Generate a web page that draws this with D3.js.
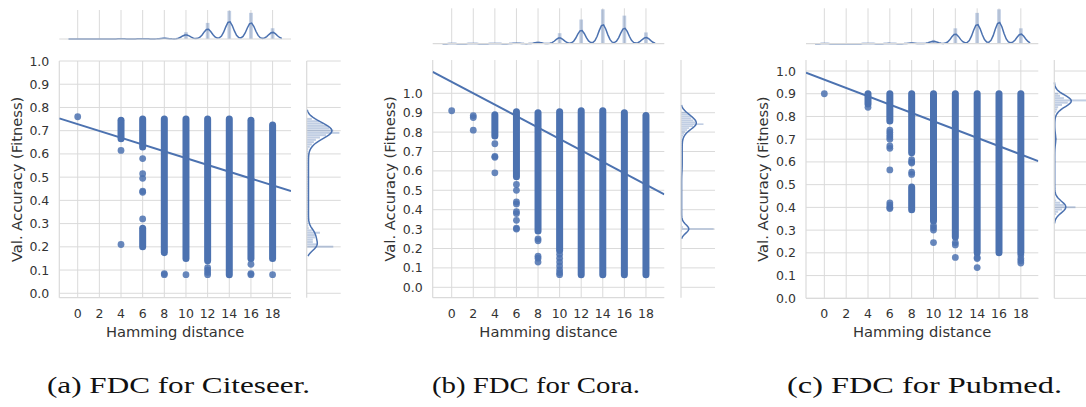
<!DOCTYPE html>
<html lang="en">
<head>
    <meta charset="UTF-8">
    <title>FDC joint plots</title>
    <style>
        body { margin: 0; background: #fff; }
        #chart { display: block; }
        .tick-label { font-family: "DejaVu Sans", sans-serif; font-size: 12.5px; fill: #333; }
        .axis-label { font-family: "DejaVu Sans", sans-serif; font-size: 14.7px; fill: #333; }
        .caption { font-family: "Liberation Serif", serif; font-size: 24px; fill: #111; }
    </style>
    <script src="https://d3js.org/d3.v7.min.js"></script>
</head>
<body>
<svg id="chart" width="1086" height="407"></svg>
<script>
    // ---- data ----
    var xTicks = [0, 2, 4, 6, 8, 10, 12, 14, 16, 18];
    var yTicks = [0, 0.1, 0.2, 0.3, 0.4, 0.5, 0.6, 0.7, 0.8, 0.9, 1.0];

    // isolated points [hamming, accuracy]
    var citeseerSingles = [[0, 0.76], [4, 0.615], [4, 0.21], [6, 0.58], [6, 0.515], [6, 0.495], [6, 0.44], [6, 0.435], [6, 0.32],
        [8, 0.085], [8, 0.08], [10, 0.08], [12, 0.11], [12, 0.10], [12, 0.09], [12, 0.08], [16, 0.125], [16, 0.085], [16, 0.08], [18, 0.08]];
    // dense runs of points [hamming, low, high]
    var citeseerBands = [[4, 0.665, 0.745], [6, 0.63, 0.75], [6, 0.2, 0.28], [8, 0.175, 0.75], [10, 0.15, 0.75],
        [12, 0.14, 0.75], [14, 0.08, 0.75], [16, 0.15, 0.745], [18, 0.15, 0.725]];

    var coraSingles = [[0, 0.91], [2, 0.885], [2, 0.875], [2, 0.81], [4, 0.74], [4, 0.675], [4, 0.67], [4, 0.59],
        [6, 0.53], [6, 0.50], [6, 0.44], [6, 0.43], [6, 0.39], [6, 0.38], [6, 0.345], [6, 0.305], [6, 0.30],
        [8, 0.25], [8, 0.24], [8, 0.16], [8, 0.15], [8, 0.13],
        [10, 0.17], [10, 0.15], [10, 0.13], [10, 0.11], [10, 0.09], [10, 0.075], [10, 0.065]];
    var coraBands = [[4, 0.78, 0.89], [6, 0.57, 0.905], [8, 0.29, 0.90], [10, 0.19, 0.905], [12, 0.065, 0.91],
        [14, 0.065, 0.91], [16, 0.065, 0.90], [18, 0.065, 0.885]];

    var pubmedSingles = [[0, 0.90], [4, 0.84], [6, 0.74], [6, 0.73], [6, 0.72], [6, 0.71], [6, 0.70], [6, 0.67], [6, 0.66],
        [6, 0.565], [6, 0.42], [6, 0.41], [6, 0.40], [6, 0.395], [8, 0.61], [8, 0.60], [8, 0.595], [8, 0.555], [8, 0.545],
        [10, 0.32], [10, 0.31], [10, 0.30], [10, 0.245], [12, 0.245], [12, 0.235], [12, 0.18],
        [14, 0.18], [14, 0.175], [14, 0.135], [18, 0.19], [18, 0.175], [18, 0.165], [18, 0.155]];
    var pubmedBands = [[4, 0.855, 0.90], [6, 0.78, 0.90], [8, 0.64, 0.90], [8, 0.39, 0.49], [10, 0.34, 0.90],
        [12, 0.27, 0.90], [14, 0.20, 0.90], [16, 0.20, 0.90], [18, 0.20, 0.90]];

    // top marginal: counts at each hamming distance in xTicks
    var citeseerTopCounts = [0.2, 0.1, 0.3, 0.5, 1.2, 6.7, 16, 28, 26, 10.7];
    var coraTopCounts = [0.2, 0.3, 0.5, 0.8, 2, 10, 23, 32.7, 26.7, 10.7];
    var pubmedTopCounts = [0.2, 0.1, 0.3, 0.5, 1, 3.5, 14.3, 28.7, 32, 14.3];

    // right marginal: accuracy histogram, bins of 0.01 starting at *Start
    var citeseerRightStart = 0.19;
    var citeseerRightCounts = [0, 26, 10, 6, 6, 8, 8, 13, 5, 2, 1.5,
        1.5, 1.5, 1.5, 1.5, 1.5, 1.5, 1.5, 1.5, 1.5, 1.5, 1.5, 1.5, 1.5, 1.5, 1.5, 1.5, 1.5,
        1.5, 1.5, 1.5, 1.5, 1.5, 1.5, 1.5, 1.5, 1.5, 1.5, 1.5, 1.5, 1.5, 1.5, 1.5, 1.5,
        3, 5, 7, 9, 13, 19, 32, 26, 22, 20, 16, 12, 5, 0];
    var coraRightStart = 0.28;
    var coraRightCounts = [0, 1, 32, 2, 1,
        0.5, 0.5, 0.5, 0.5, 0.5, 0.5, 0.5, 0.5, 0.5, 0.5, 0.5, 0.5, 0.5, 0.5, 0.5, 0.5, 0.5, 0.5, 0.5, 0.5, 0.5, 0.5, 0.5, 0.5, 0.5, 0.5, 0.5,
        1, 1, 1, 1, 1, 1, 1, 1, 1, 1, 1, 1, 1, 1, 1, 1, 1, 1,
        2, 3, 4, 6, 8, 12, 22, 14, 12, 10, 10, 8, 6, 0];
    var pubmedRightStart = 0.36;
    var pubmedRightCounts = [0, 2, 4, 8, 22, 10, 6, 2, 1,
        0.3, 0.3, 0.3, 0.3, 0.3, 0.3, 0.3, 0.3, 0.3, 0.3, 0.3, 0.3, 0.3, 0.3, 0.3, 0.3, 0.3, 0.3, 0.3, 0.3, 0.3, 0.3, 0.3, 0.3,
        1.5, 2.5, 1.5,
        0.3, 0.3, 0.3, 0.3, 0.3, 0.3, 0.3, 0.3, 0.3, 0.3,
        2, 3, 4, 8, 14, 34, 10, 6, 4, 0, 0];

    // regression fits
    var citeseerFit = { intercept: 0.728, slope: -0.01463 };
    var coraFit = { intercept: 1.059, slope: -0.02945 };
    var pubmedFit = { intercept: 0.962, slope: -0.01828 };

    var captions = ["(a) FDC for Citeseer.", "(b) FDC for Cora.", "(c) FDC for Pubmed."];

    // ---- layout ----
    var blue = "#4c72b0";
    var gridColor = "#dadada";

    var panels = [
        { singles: citeseerSingles, bands: citeseerBands, topCounts: citeseerTopCounts,
          rightStart: citeseerRightStart, rightCounts: citeseerRightCounts, fit: citeseerFit, caption: captions[0],
          left: 59.3, right: 291, top: 61, bottom: 297.7, xDom: [-1.7, 19.7], yDom: [-0.019, 1.0],
          margTop: 10, margBottom: 39, rLeft: 306.7, rRight: 340.7, yLabelX: 16.7,
          capX: 178.5, capW: 263, topFrac: 0.59, rightFrac: 0.74 },
        { singles: coraSingles, bands: coraBands, topCounts: coraTopCounts,
          rightStart: coraRightStart, rightCounts: coraRightCounts, fit: coraFit, caption: captions[1],
          left: 432.7, right: 664.3, top: 60, bottom: 297.7, xDom: [-1.76, 19.7], yDom: [-0.0536, 1.1716],
          margTop: 8.3, margBottom: 43.7, rLeft: 681, rRight: 715, yLabelX: 390,
          capX: 536, capW: 208, topFrac: 0.53, rightFrac: 0.45 },
        { singles: pubmedSingles, bands: pubmedBands, topCounts: pubmedTopCounts,
          rightStart: pubmedRightStart, rightCounts: pubmedRightCounts, fit: pubmedFit, caption: captions[2],
          left: 806, right: 1038.3, top: 60, bottom: 298.3, xDom: [-1.68, 19.6], yDom: [0, 1.0484],
          margTop: 8.3, margBottom: 43.7, rLeft: 1054.3, rRight: 1088.3, yLabelX: 763.3,
          capX: 924.5, capW: 275, topFrac: 0.6, rightFrac: 0.5 }
    ];

    var svg = d3.select("#chart");

    function gauss(u) { return Math.exp(-0.5 * u * u) / Math.sqrt(2 * Math.PI); }

    function kde(centers, weights, h, lo, hi, n) {
        var pts = [];
        for (var i = 0; i < n; i++) {
            var x = lo + (hi - lo) * i / (n - 1);
            var s = 0;
            for (var j = 0; j < centers.length; j++) s += weights[j] * gauss((x - centers[j]) / h) / h;
            pts.push([x, s]);
        }
        return pts;
    }

    panels.forEach(function (p, idx) {
        var g = svg.append("g");
        var x = d3.scaleLinear().domain(p.xDom).range([p.left, p.right]);
        var y = d3.scaleLinear().domain(p.yDom).range([p.bottom, p.top]);

        var clipId = "clip" + idx;
        svg.append("clipPath").attr("id", clipId).append("rect")
            .attr("x", p.left).attr("y", p.top).attr("width", p.right - p.left).attr("height", p.bottom - p.top);

        // grid
        g.selectAll(".vg").data(xTicks).enter().append("line")
            .attr("x1", function (d) { return x(d); }).attr("x2", function (d) { return x(d); })
            .attr("y1", p.top).attr("y2", p.bottom)
            .attr("stroke", gridColor).attr("stroke-width", 1);
        g.selectAll(".hg").data(yTicks).enter().append("line")
            .attr("x1", p.left).attr("x2", p.right)
            .attr("y1", function (d) { return y(d); }).attr("y2", function (d) { return y(d); })
            .attr("stroke", gridColor).attr("stroke-width", 1);
        // spines
        g.append("line").attr("x1", p.left).attr("x2", p.left).attr("y1", p.top).attr("y2", p.bottom)
            .attr("stroke", gridColor).attr("stroke-width", 1.2);
        g.append("line").attr("x1", p.left).attr("x2", p.right).attr("y1", p.bottom).attr("y2", p.bottom)
            .attr("stroke", gridColor).attr("stroke-width", 1.2);

        // tick labels
        g.selectAll(".xt").data(xTicks).enter().append("text")
            .attr("class", "tick-label").attr("text-anchor", "middle")
            .attr("x", function (d) { return x(d); }).attr("y", p.bottom + 20)
            .text(function (d) { return d; });
        g.selectAll(".yt").data(yTicks).enter().append("text")
            .attr("class", "tick-label").attr("text-anchor", "end")
            .attr("x", p.left - 10).attr("y", function (d) { return y(d) + 4.5; })
            .text(function (d) { return d.toFixed(1); });

        // axis labels
        g.append("text").attr("class", "axis-label").attr("text-anchor", "middle")
            .attr("x", (p.left + p.right) / 2).attr("y", p.bottom + 39)
            .text("Hamming distance");
        g.append("text").attr("class", "axis-label").attr("text-anchor", "middle")
            .attr("transform", "translate(" + (p.yLabelX + 5) + "," + ((p.top + p.bottom) / 2) + ") rotate(-90)")
            .text("Val. Accuracy (Fitness)");

        // scatter: dense runs drawn as round-capped strokes, isolated points as circles
        var marks = g.append("g").attr("clip-path", "url(#" + clipId + ")");
        marks.selectAll(".band").data(p.bands).enter().append("line")
            .attr("x1", function (d) { return x(d[0]); }).attr("x2", function (d) { return x(d[0]); })
            .attr("y1", function (d) { return y(d[1]); }).attr("y2", function (d) { return y(d[2]); })
            .attr("stroke", blue).attr("stroke-width", 7).attr("stroke-linecap", "round");
        marks.selectAll(".pt").data(p.singles).enter().append("circle")
            .attr("cx", function (d) { return x(d[0]); }).attr("cy", function (d) { return y(d[1]); })
            .attr("r", 3.4).attr("fill", blue).attr("fill-opacity", 0.85);

        // regression line
        marks.append("line")
            .attr("x1", x(p.xDom[0])).attr("y1", y(p.fit.intercept + p.fit.slope * p.xDom[0]))
            .attr("x2", x(p.xDom[1])).attr("y2", y(p.fit.intercept + p.fit.slope * p.xDom[1]))
            .attr("stroke", blue).attr("stroke-width", 2);

        // ---- top marginal ----
        var tg = svg.append("g");
        tg.selectAll(".tg").data(xTicks).enter().append("line")
            .attr("x1", function (d) { return x(d); }).attr("x2", function (d) { return x(d); })
            .attr("y1", p.margTop).attr("y2", p.margBottom)
            .attr("stroke", gridColor).attr("stroke-width", 1);
        var topMax = d3.max(p.topCounts);
        var ty = d3.scaleLinear().domain([0, topMax * 1.03]).range([p.margBottom, p.margTop]);
        tg.selectAll(".tb").data(p.topCounts).enter().append("rect")
            .attr("x", function (d, i) { return x(xTicks[i] - 0.17); })
            .attr("width", function (d, i) { return x(xTicks[i] + 0.17) - x(xTicks[i] - 0.17); })
            .attr("y", function (d) { return ty(d); })
            .attr("height", function (d) { return p.margBottom - ty(d); })
            .attr("fill", blue).attr("fill-opacity", 0.35);
        var topKde = kde(xTicks, p.topCounts, 0.38, -0.85, 18.85, 100);
        var tkMax = d3.max(topKde, function (d) { return d[1]; });
        var tky = d3.scaleLinear().domain([0, tkMax / p.topFrac]).range([p.margBottom, p.margTop]);
        tg.append("path").datum(topKde)
            .attr("d", d3.line().x(function (d) { return x(d[0]); }).y(function (d) { return tky(d[1]); }))
            .attr("fill", "none").attr("stroke", blue).attr("stroke-width", 1.5);
        tg.append("line").attr("x1", p.left).attr("x2", p.right).attr("y1", p.margBottom).attr("y2", p.margBottom)
            .attr("stroke", gridColor).attr("stroke-width", 1.2);

        // ---- right marginal ----
        var rg = svg.append("g");
        rg.selectAll(".rgl").data(yTicks).enter().append("line")
            .attr("x1", p.rLeft).attr("x2", p.rRight)
            .attr("y1", function (d) { return y(d); }).attr("y2", function (d) { return y(d); })
            .attr("stroke", gridColor).attr("stroke-width", 1);
        var binCenters = p.rightCounts.map(function (c, i) { return p.rightStart + i * 0.01; });
        var rMax = d3.max(p.rightCounts);
        var rx = d3.scaleLinear().domain([0, rMax * 1.04]).range([p.rLeft, p.rRight]);
        rg.selectAll(".rb").data(p.rightCounts).enter().append("rect")
            .attr("x", p.rLeft)
            .attr("y", function (d, i) { return y(binCenters[i] + 0.005); })
            .attr("height", function (d, i) { return Math.max(0, y(binCenters[i] - 0.005) - y(binCenters[i] + 0.005) - 0.3); })
            .attr("width", function (d) { return rx(d) - p.rLeft; })
            .attr("fill", blue).attr("fill-opacity", 0.35);
        var lo = binCenters[0], hi = binCenters[binCenters.length - 1];
        var rightKde = kde(binCenters, p.rightCounts, 0.022, lo - 0.03, hi + 0.03, 100);
        var rkMax = d3.max(rightKde, function (d) { return d[1]; });
        var rkx = d3.scaleLinear().domain([0, rkMax / p.rightFrac]).range([p.rLeft, p.rRight]);
        rg.append("path").datum(rightKde)
            .attr("d", d3.line().x(function (d) { return rkx(d[1]); }).y(function (d) { return y(d[0]); }))
            .attr("fill", "none").attr("stroke", blue).attr("stroke-width", 1.5);
        rg.append("line").attr("x1", p.rLeft).attr("x2", p.rLeft).attr("y1", p.top).attr("y2", p.bottom)
            .attr("stroke", gridColor).attr("stroke-width", 1.2);

        // caption
        svg.append("text").attr("class", "caption").attr("text-anchor", "middle")
            .attr("x", p.capX).attr("y", 393)
            .attr("textLength", p.capW).attr("lengthAdjust", "spacingAndGlyphs")
            .text(p.caption);
    });
</script>
</body>
</html>
